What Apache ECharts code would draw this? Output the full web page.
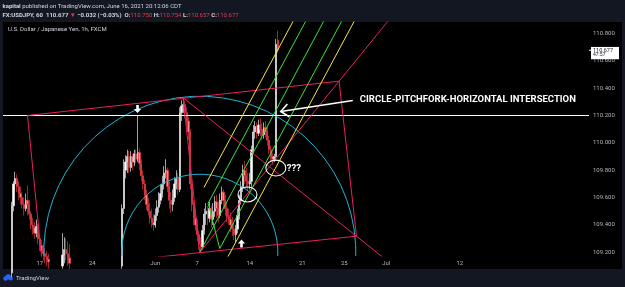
<!DOCTYPE html>
<html>
<head>
<meta charset="utf-8">
<script src="https://cdn.jsdelivr.net/npm/echarts/dist/echarts.min.js"></script>
<style>
  html, body { margin: 0; padding: 0; background: #131722; }
  #chart { width: 625px; height: 287px; }
</style>
</head>
<body>
<div id="chart"></div>
<script>
// x = trading days counted from Mon May 17 (weekends skipped, like the TV time scale)
const tickDays = [0, 5, 11, 15, 20, 25, 29, 33, 40];
const tickLabels = ['17', '24', 'Jun', '7', '14', '21', '25', 'Jul', '12'];
const priceTicks = [109.2, 109.4, 109.6, 109.8, 110.0, 110.2, 110.4, 110.6, 110.8];

// 4h bars [open, close, low, high]; null = price off the bottom of the view
const barStart = -2.667;
const barStep = 1 / 6;
const bars = [
  [109.05, 109.54, 109.02, 109.57], [109.54, 109.70, 109.50, 109.72], [109.70, 109.74, 109.66, 109.79],
  [109.74, 109.68, 109.64, 109.77], [109.68, 109.63, 109.58, 109.72], [109.63, 109.60, 109.55, 109.68],
  [109.60, 109.55, 109.52, 109.64], [109.55, 109.52, 109.47, 109.60], [109.52, 109.58, 109.50, 109.63],
  [109.58, 109.55, 109.47, 109.69], [109.55, 109.48, 109.44, 109.58], [109.48, 109.40, 109.37, 109.50],
  [109.40, 109.38, 109.33, 109.45], [109.38, 109.34, 109.30, 109.42], [109.34, 109.39, 109.31, 109.44],
  [109.39, 109.30, 109.26, 109.41], [109.30, 109.25, 109.21, 109.33], [109.25, 109.21, 109.17, 109.29],
  [109.21, 109.19, 109.14, 109.26], [109.19, 109.17, 109.12, 109.23], [109.17, 109.15, 109.10, 109.21],
  [109.15, 109.13, 109.08, 109.19], [109.13, 109.10, 109.05, 109.16],
  null, null, null, null, null, null,
  [109.10, 109.18, 109.08, 109.34], [109.18, 109.22, 109.12, 109.31], [109.22, 109.19, 109.14, 109.30],
  [109.19, 109.16, 109.10, 109.28], [109.16, 109.12, 109.08, 109.26],
  null, null, null, null, null, null, null, null, null, null, null, null, null, null, null,
  null, null, null, null, null, null, null, null, null, null, null, null, null, null,
  [109.10, 109.52, 109.08, 109.55], [109.52, 109.80, 109.48, 109.88], [109.80, 109.86, 109.74, 109.91],
  [109.86, 109.90, 109.78, 109.95], [109.90, 109.82, 109.78, 109.94], [109.82, 109.90, 109.79, 109.94],
  [109.90, 109.86, 109.80, 109.92], [109.86, 109.92, 109.83, 109.95], [109.92, 109.88, 109.85, 109.95],
  [109.88, 109.93, 109.86, 110.20], [109.93, 109.85, 109.80, 109.96], [109.85, 109.76, 109.72, 109.88],
  [109.76, 109.70, 109.66, 109.80], [109.70, 109.62, 109.58, 109.73], [109.62, 109.55, 109.51, 109.66],
  [109.55, 109.50, 109.47, 109.60], [109.50, 109.45, 109.41, 109.56], [109.45, 109.42, 109.38, 109.52],
  [109.42, 109.40, 109.36, 109.48], [109.40, 109.47, 109.38, 109.52], [109.47, 109.53, 109.43, 109.58],
  [109.53, 109.58, 109.49, 109.64], [109.58, 109.63, 109.55, 109.70], [109.63, 109.70, 109.60, 109.76],
  [109.70, 109.78, 109.66, 109.83], [109.78, 109.80, 109.74, 109.88], [109.80, 109.68, 109.64, 109.82],
  [109.68, 109.58, 109.52, 109.72], [109.58, 109.55, 109.49, 109.64], [109.55, 109.60, 109.50, 109.66],
  [109.60, 109.70, 109.57, 109.75], [109.70, 109.74, 109.66, 109.80], [109.74, 109.66, 109.62, 109.78],
  [109.66, 110.22, 109.64, 110.26], [110.22, 110.27, 110.16, 110.31], [110.27, 110.28, 110.22, 110.33],
  [110.28, 110.22, 110.18, 110.31], [110.22, 110.16, 110.12, 110.26], [110.16, 110.08, 110.02, 110.19],
  [110.08, 109.70, 109.66, 110.10], [109.70, 109.55, 109.50, 109.74], [109.55, 109.45, 109.40, 109.58],
  [109.45, 109.40, 109.36, 109.52], [109.40, 109.33, 109.28, 109.44], [109.33, 109.26, 109.22, 109.36],
  [109.26, 109.24, 109.20, 109.31], [109.24, 109.36, 109.22, 109.40], [109.36, 109.48, 109.33, 109.52],
  [109.48, 109.50, 109.40, 109.56], [109.50, 109.45, 109.40, 109.54], [109.45, 109.52, 109.42, 109.57],
  [109.52, 109.44, 109.38, 109.54], [109.44, 109.50, 109.40, 109.56], [109.50, 109.57, 109.46, 109.61],
  [109.57, 109.52, 109.45, 109.62], [109.52, 109.47, 109.42, 109.57], [109.47, 109.58, 109.45, 109.63],
  [109.58, 109.64, 109.55, 109.68], [109.64, 109.58, 109.52, 109.66], [109.58, 109.52, 109.47, 109.62],
  [109.52, 109.46, 109.42, 109.56], [109.46, 109.44, 109.40, 109.52], [109.44, 109.40, 109.35, 109.49],
  [109.40, 109.37, 109.32, 109.46], [109.37, 109.33, 109.29, 109.42], [109.33, 109.37, 109.27, 109.40],
  [109.37, 109.47, 109.34, 109.52], [109.47, 109.58, 109.44, 109.62], [109.58, 109.68, 109.55, 109.72],
  [109.68, 109.80, 109.64, 109.84], [109.80, 109.76, 109.70, 109.87], [109.76, 109.72, 109.67, 109.82],
  [109.72, 109.70, 109.65, 109.78], [109.70, 109.72, 109.66, 109.78], [109.72, 109.95, 109.68, 109.98],
  [109.95, 110.08, 109.92, 110.13], [110.08, 110.12, 110.03, 110.16], [110.12, 110.07, 110.03, 110.15],
  [110.07, 110.13, 110.05, 110.17], [110.13, 110.10, 110.05, 110.18], [110.10, 110.06, 110.02, 110.14],
  [110.06, 110.11, 110.03, 110.15], [110.11, 110.08, 110.04, 110.16], [110.08, 110.02, 109.98, 110.12],
  [110.02, 109.95, 109.92, 110.05], [109.95, 109.90, 109.87, 109.98], [109.90, 109.88, 109.84, 109.93],
  [109.88, 109.90, 109.86, 109.92], [109.90, 110.72, 109.87, 110.76], [110.75, 110.677, 110.657, 110.82]
];
const lastPrice = 110.677;

// drawing anchors [day, price]
const ptA = [-1.17, 110.200];
const ptB = [28.50, 110.451];
const ptC = [30.16, 109.318];
const ptD = [0.29, 109.077];
const ptPeak = [13.65, 110.330];
const ptLow = [15.24, 109.201];
const ptCext = [33.47, 109.115];
const ptBext = [33.81, 110.951];
const levelPrice = 110.2;

// pitchfork: handle = ptLow, then P2 / P3
const forkP2 = [16.03, 109.559];
const forkP3 = [17.14, 109.228];
const greenLevels = [1, 0, -1];
const yellowLevels = [1.7, -1.7];

// circles centred on the low, radius given by a point on the circle
const arcs = [[15.24, 109.201, 15.24, 110.341], [15.24, 109.201, 15.24, 109.771]];
// white ellipses [day, price, half width (days), half height (price)]
const ellipses = [[19.78, 109.623, 0.905, 0.055], [22.48, 109.816, 0.952, 0.058]];
// arrow marks [day, price of tip, 1 = up / -1 = down]
const arrowMarks = [[9.31, 110.218, -1], [19.21, 109.294, 1]];
// pointer arrow [tail day, tail price, tip day, tip price]
const pointer = [[29.81, 110.310, 22.95, 110.229]];
const notes = [[30.48, 110.314], [23.52, 109.813]];
const noteTexts = ['CIRCLE-PITCHFORK-HORIZONTAL INTERSECTION', '???'];

const X_MIN = -3.5, X_MAX = 52.3, Y_MIN = 109.1733, Y_MAX = 110.8833;
const PINK = '#e91e63', CYAN = '#1cb5d5', GREEN = '#3be03b', YELLOW = '#f5e63a';

const candleData = bars.map((b, i) => b && [barStart + i * barStep].concat(b)).filter(Boolean);

function seg(pts, color, width) {
  return {
    type: 'line', data: pts, symbol: 'none', silent: true, clip: true, z: 3,
    lineStyle: { color: color, width: width || 1 }
  };
}

const mid = [(forkP2[0] + forkP3[0]) / 2, (forkP2[1] + forkP3[1]) / 2];
const dir = [mid[0] - ptLow[0], mid[1] - ptLow[1]];
function forkLine(k) {
  const s = k === 0 ? ptLow : [mid[0] + k * (forkP2[0] - mid[0]), mid[1] + k * (forkP2[1] - mid[1])];
  const t = (111.0 - s[1]) / dir[1];
  return [s, [s[0] + t * dir[0], 111.0]];
}

const series = [
  {
    type: 'candlestick', data: candleData, encode: { x: 0, y: [1, 2, 3, 4] },
    barWidth: 1.6, z: 2, silent: true,
    itemStyle: { color: '#ffffff', color0: '#ff8a80', borderColor: '#e6e6e6', borderColor0: '#e8303f', borderWidth: 0.7 }
  },
  seg([[X_MIN, levelPrice], [X_MAX, levelPrice]], '#ffffff', 1),
  seg([ptA, ptB], PINK), seg([ptB, ptC], PINK), seg([ptC, ptD], PINK), seg([ptD, ptA], PINK),
  seg([ptPeak, ptLow], PINK), seg([ptPeak, ptCext], PINK), seg([ptLow, ptBext], PINK),
  seg([forkP2, forkP3], GREEN)
];
greenLevels.forEach(k => series.push(seg(forkLine(k), GREEN)));
yellowLevels.forEach(k => series.push(seg(forkLine(k), YELLOW)));

series.push({
  type: 'custom', data: arcs, clip: true, silent: true, z: 3,
  renderItem: (params, api) => {
    const c = api.coord([api.value(0), api.value(1)]);
    const e = api.coord([api.value(2), api.value(3)]);
    const r = Math.hypot(e[0] - c[0], e[1] - c[1]);
    return {
      type: 'arc',
      shape: { cx: c[0], cy: c[1], r: r, startAngle: Math.PI - 0.05, endAngle: 2 * Math.PI + 0.05, clockwise: true },
      style: { stroke: CYAN, lineWidth: 1, fill: null }
    };
  }
});
series.push({
  type: 'custom', data: ellipses, silent: true, z: 4,
  renderItem: (params, api) => {
    const c = api.coord([api.value(0), api.value(1)]);
    const s = api.size([api.value(2), api.value(3)]);
    return { type: 'ellipse', shape: { cx: c[0], cy: c[1], rx: s[0], ry: s[1] }, style: { stroke: '#ffffff', fill: null, lineWidth: 1.1 } };
  }
});
series.push({
  type: 'custom', data: arrowMarks, silent: true, z: 4,
  renderItem: (params, api) => {
    const t = api.coord([api.value(0), api.value(1)]);
    const s = api.value(2);
    const shape = [[0, 0], [-3.6, 4], [-1.3, 4], [-1.3, 8], [1.3, 8], [1.3, 4], [3.6, 4]];
    return { type: 'polygon', shape: { points: shape.map(p => [t[0] + p[0], t[1] + p[1] * s]) }, style: { fill: '#ffffff' } };
  }
});
series.push({
  type: 'custom', data: pointer, silent: true, z: 4,
  renderItem: (params, api) => {
    const a = api.coord([api.value(0), api.value(1)]);
    const b = api.coord([api.value(2), api.value(3)]);
    const ang = Math.atan2(a[1] - b[1], a[0] - b[0]);
    const w1 = [b[0] + 10 * Math.cos(ang + 0.7), b[1] + 10 * Math.sin(ang + 0.7)];
    const w2 = [b[0] + 10 * Math.cos(ang - 0.7), b[1] + 10 * Math.sin(ang - 0.7)];
    return {
      type: 'group', children: [
        { type: 'line', shape: { x1: a[0], y1: a[1], x2: b[0], y2: b[1] }, style: { stroke: '#ffffff', lineWidth: 1.6 } },
        { type: 'polyline', shape: { points: [w1, b, w2] }, style: { stroke: '#ffffff', lineWidth: 1.6, fill: null } }
      ]
    };
  }
});
series.push({
  type: 'custom', data: notes, silent: true, z: 5,
  renderItem: (params, api) => {
    const p = api.coord([api.value(0), api.value(1)]);
    return {
      type: 'text', x: p[0], y: p[1],
      style: { text: noteTexts[params.dataIndex], fill: '#ffffff', fontSize: 9.5, fontWeight: 'bold', fontFamily: 'Roboto', align: 'left', verticalAlign: 'middle' }
    };
  }
});
series.push({
  type: 'custom', data: [[X_MAX, lastPrice]], silent: true, z: 6,
  renderItem: (params, api) => {
    const p = api.coord([api.value(0), api.value(1)]);
    return {
      type: 'group', children: [
        { type: 'line', shape: { x1: p[0], y1: p[1], x2: p[0] + 2, y2: p[1] }, style: { stroke: '#ffffff', lineWidth: 1 } },
        { type: 'rect', shape: { x: p[0] + 2, y: p[1] - 3.3, width: 28, height: 12.3 }, style: { fill: '#ffffff' } },
        { type: 'text', x: p[0] + 4, y: p[1], style: { text: lastPrice.toFixed(3), fill: '#131722', fontSize: 5.5, fontFamily: 'Roboto', verticalAlign: 'middle' } },
        { type: 'text', x: p[0] + 4, y: p[1] + 4.5, style: { text: '47:57', fill: '#131722', fontSize: 5, fontFamily: 'Roboto', verticalAlign: 'middle' } }
      ]
    };
  }
});

const rich = {
  w: { fill: '#d1d4dc', fontSize: 6, fontFamily: 'Roboto' },
  b: { fill: '#d1d4dc', fontSize: 6, fontFamily: 'Roboto', fontWeight: 'bold' },
  r: { fill: '#f23645', fontSize: 6, fontFamily: 'Roboto' }
};

const chart = echarts.init(document.getElementById('chart'));
chart.setOption({
  animation: false,
  backgroundColor: '#131722',
  grid: { left: 3, right: 36, top: 22, bottom: 31 },
  xAxis: {
    type: 'value', min: X_MIN, max: X_MAX,
    axisLine: { show: false }, axisTick: { show: false }, splitLine: { show: false },
    axisLabel: {
      customValues: tickDays, formatter: v => tickLabels[tickDays.indexOf(v)] || '',
      color: '#b2b5be', fontSize: 6, fontFamily: 'Roboto', margin: 4
    }
  },
  yAxis: {
    type: 'value', position: 'right', min: Y_MIN, max: Y_MAX,
    axisLine: { show: false }, axisTick: { show: false }, splitLine: { show: false },
    axisLabel: {
      customValues: priceTicks, formatter: v => v.toFixed(3),
      color: '#b2b5be', fontSize: 6, fontFamily: 'Roboto', margin: 4
    }
  },
  graphic: [
    { type: 'rect', z: -10, silent: true, shape: { x: 3, y: 22, width: 619, height: 247 }, style: { fill: '#000000' } },
    {
      type: 'text', x: 2.5, y: 6, silent: true,
      style: { text: '{b|kapital}{w| published on TradingView.com, June 16, 2021 20:12:06 CDT}', rich: rich, verticalAlign: 'middle' }
    },
    {
      type: 'text', x: 2.5, y: 15, silent: true,
      style: {
        text: '{b|FX:USDJPY, 60  110.677 }{r|▼}{b| −0.032 (−0.03%)  O:}{r|110.750}{b| H:}{r|110.754}{b| L:}{r|110.657}{b| C:}{r|110.677}',
        rich: rich, verticalAlign: 'middle'
      }
    },
    {
      type: 'text', x: 8, y: 29.5, silent: true,
      style: { text: 'U.S. Dollar / Japanese Yen, 1h, FXCM', fill: '#d1d4dc', fontSize: 6, fontFamily: 'Roboto', verticalAlign: 'middle' }
    },
    { type: 'circle', silent: true, shape: { cx: 5.5, cy: 278.5, r: 2.2 }, style: { fill: '#2962ff' } },
    { type: 'circle', silent: true, shape: { cx: 8.3, cy: 277, r: 2.8 }, style: { fill: '#2962ff' } },
    { type: 'circle', silent: true, shape: { cx: 11, cy: 278.6, r: 2 }, style: { fill: '#2962ff' } },
    {
      type: 'text', x: 16, y: 278, silent: true,
      style: { text: 'TradingView', fill: '#d1d4dc', fontSize: 6, fontFamily: 'Roboto', verticalAlign: 'middle' }
    }
  ],
  series: series
});
</script>
</body>
</html>
